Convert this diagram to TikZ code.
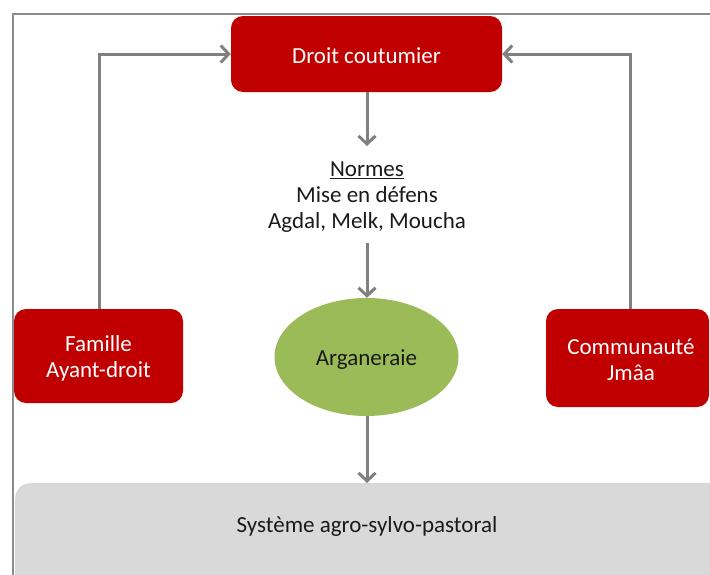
\documentclass[tikz,border=0pt]{standalone}
\usepackage{fontspec}
\setmainfont{Carlito}
\usetikzlibrary{arrows.meta,shapes.geometric}
\definecolor{myred}{HTML}{C00000}
\definecolor{mygreen}{HTML}{9BBB59}
\definecolor{mygray}{HTML}{D9D9D9}
\definecolor{arrgray}{HTML}{808080}
\definecolor{framegray}{HTML}{8C8C8C}
\definecolor{txtdark}{HTML}{1A1A1A}
\begin{document}
\begin{tikzpicture}[x=1pt,y=-1pt,
  redbox/.style={fill=myred, rounded corners=12pt, inner sep=0pt},
  whitetext/.style={text=white, font=\fontsize{23}{26}\selectfont, align=center, inner sep=0pt},
  conn/.style={draw=arrgray, line width=3pt,
    -{Straight Barb[length=8pt,width=17pt,line width=3pt]}},
  plaintext/.style={text=txtdark, font=\fontsize{23}{26}\selectfont, align=center, inner sep=0pt}]
\useasboundingbox (0,0) rectangle (710,574);
\clip (0,0) rectangle (710,574);
\fill[white] (0,0) rectangle (710,574);
% frame
\draw[framegray, line width=1.2pt] (13,600) -- (13,14) -- (730,14);
% shapes
\node[redbox, minimum width=271pt, minimum height=76pt] (droit) at (366.5,54) {};
\node[redbox, minimum width=169pt, minimum height=94pt] (fam) at (98.5,356) {};
\node[redbox, minimum width=163pt, minimum height=98pt] (com) at (627.5,358) {};
\node[ellipse, fill=mygreen, minimum width=184pt, minimum height=118pt, inner sep=0pt] (arg) at (366.5,357) {};
\node[fill=mygray, rounded corners=15pt, anchor=north west, minimum width=740pt,
      minimum height=140pt, inner sep=0pt] (sysbox) at (15,483) {};
% texts
\node[whitetext] (droittext) at (366.5,55.5) {Droit coutumier};
\node[whitetext] (famtext) at (98.5,358.5) {Famille\\Ayant-droit};
\node[whitetext] (comtext) at (631,359.5) {Communauté\\Jmâa};
\node[plaintext] (normes) at (367,197.5) {\underline{Normes}\\Mise en défens\\Agdal, Melk, Moucha};
\node[plaintext] (argtext) at (366.5,360) {Arganeraie};
\node[plaintext] (sys) at (367,526.5) {Système agro-sylvo-pastoral};
% connector ends
\coordinate (n1) at (367,146);
\coordinate (n2) at (367,243);
% connectors
\draw[conn] (droit.south -| n1) -- (n1);
\draw[conn] (n2) -- (n2 |- arg.north);
\draw[conn] (arg.south -| n1) -- (n1 |- sysbox.north);
\draw[conn] ([xshift=0.5pt]fam.north) -- ([xshift=0.5pt]fam.north |- droit.west) -- (droit.west);
\draw[conn] ([xshift=2.5pt]com.north) -- ([xshift=2.5pt]com.north |- droit.east) -- (droit.east);
\end{tikzpicture}
\end{document}
